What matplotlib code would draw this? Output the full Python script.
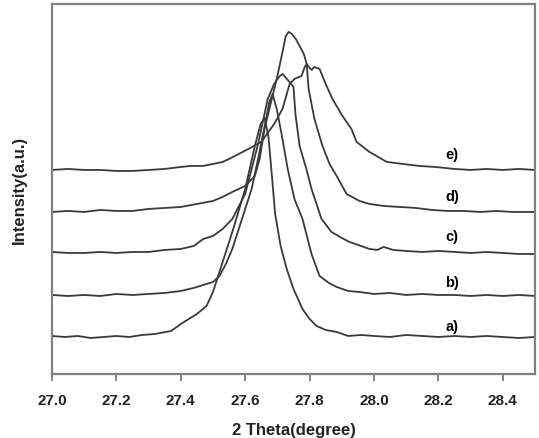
import matplotlib.pyplot as plt

plt.rcParams['font.family'] = ['Liberation Sans', 'DejaVu Sans']
plt.rcParams['font.weight'] = 'bold'

# curve a)
a_x = [27.00, 27.04, 27.08, 27.12, 27.16, 27.20, 27.24, 27.28, 27.32, 27.37, 27.40, 27.45,
       27.48, 27.50, 27.52, 27.54, 27.56, 27.60, 27.63, 27.648, 27.66, 27.672, 27.683, 27.693,
       27.71, 27.729, 27.75, 27.778, 27.80, 27.822, 27.85, 27.884, 27.92, 27.96, 28.00, 28.05,
       28.10, 28.15, 28.20, 28.25, 28.30, 28.35, 28.40, 28.45, 28.50]
a_y = [38, 37, 38, 36, 37, 38, 37, 39, 40, 43, 50, 60,
       68, 82, 102, 122, 142, 185, 228, 250, 256, 238, 198, 160,
       128, 105, 85, 65, 55, 48, 44, 42, 38, 39, 38, 37,
       39, 38, 37, 38, 37, 38, 37, 36, 37]

# curve b)
b_x = [27.00, 27.05, 27.10, 27.15, 27.20, 27.25, 27.30, 27.35, 27.40, 27.44, 27.47, 27.50,
       27.52, 27.54, 27.56, 27.59, 27.62, 27.64, 27.66, 27.675, 27.685, 27.698, 27.713, 27.732,
       27.753, 27.778, 27.806, 27.831, 27.86, 27.884, 27.92, 27.955, 28.00, 28.05, 28.10, 28.15,
       28.20, 28.25, 28.30, 28.35, 28.40, 28.45, 28.50]
b_y = [79, 78, 79, 78, 80, 79, 80, 81, 83, 86, 89, 92,
       98, 110, 125, 155, 185, 215, 247, 272, 280, 265, 240, 205,
       175, 155, 120, 98, 91, 87, 83, 82, 80, 81, 79, 80,
       79, 79, 78, 79, 78, 79, 78]

# curve c)
c_x = [27.00, 27.05, 27.10, 27.15, 27.20, 27.25, 27.30, 27.35, 27.40, 27.44, 27.47, 27.50,
       27.53, 27.56, 27.60, 27.64, 27.67, 27.69, 27.705, 27.716, 27.735, 27.75, 27.756, 27.769,
       27.79, 27.806, 27.837, 27.868, 27.90, 27.924, 27.96, 27.986, 28.01, 28.03, 28.06, 28.10,
       28.15, 28.20, 28.25, 28.30, 28.35, 28.40, 28.45, 28.50]
c_y = [122, 121, 121, 122, 121, 122, 122, 124, 125, 128, 135, 138,
       145, 155, 180, 230, 275, 290, 297, 300, 293, 287, 260, 228,
       205, 185, 155, 142, 136, 132, 128, 125, 124, 127, 124, 123,
       122, 123, 122, 121, 122, 121, 120, 120]

# curve d)
d_x = [27.00, 27.05, 27.10, 27.15, 27.20, 27.25, 27.30, 27.35, 27.40, 27.45, 27.50, 27.53,
       27.56, 27.60, 27.63, 27.645, 27.66, 27.685, 27.70, 27.716, 27.726, 27.735, 27.745, 27.757,
       27.769, 27.782, 27.791, 27.797, 27.815, 27.84, 27.862, 27.884, 27.915, 27.955, 27.986, 28.03,
       28.08, 28.13, 28.18, 28.23, 28.28, 28.33, 28.38, 28.43, 28.50]
d_y = [162, 163, 162, 164, 163, 163, 165, 166, 167, 170, 173, 177,
       182, 188, 198, 215, 245, 278, 298, 322, 338, 342, 340, 335,
       328, 320, 310, 285, 255, 228, 210, 198, 180, 173, 170, 168,
       167, 166, 164, 163, 163, 162, 163, 162, 162]

# curve e)
e_x = [27.00, 27.05, 27.10, 27.15, 27.20, 27.25, 27.30, 27.35, 27.40, 27.43, 27.47, 27.50,
       27.53, 27.55, 27.58, 27.61, 27.65, 27.69, 27.716, 27.738, 27.753, 27.775, 27.785, 27.791,
       27.80, 27.806, 27.815, 27.822, 27.831, 27.85, 27.871, 27.902, 27.93, 27.946, 27.986, 28.04,
       28.09, 28.14, 28.19, 28.25, 28.30, 28.35, 28.40, 28.45, 28.50]
e_y = [204, 205, 204, 204, 203, 203, 204, 205, 207, 208, 208, 210,
       212, 215, 220, 225, 232, 250, 265, 290, 295, 298, 307, 310,
       306, 304, 307, 306, 305, 290, 275, 258, 245, 232, 222, 212,
       210, 208, 207, 205, 204, 205, 204, 205, 204]

labels = ['a)', 'b)', 'c)', 'd)', 'e)']
label_y = [48, 92, 138, 178, 220]

fig = plt.figure(figsize=(5.39, 4.39), dpi=100)
ax = fig.add_axes([0.0965, 0.1458, 0.896, 0.843])

for xs, ys in [(a_x, a_y), (b_x, b_y), (c_x, c_y), (d_x, d_y), (e_x, e_y)]:
    ax.plot(xs, ys, color='#3a3a3a', lw=1.3)

for lab, ly in zip(labels, label_y):
    ax.text(28.243, ly, lab, fontsize=10.5, fontweight='bold', ha='center', va='center')

ax.set_xlim(27.0, 28.5)
ax.set_ylim(0, 370)
ax.set_xticks([27.0, 27.2, 27.4, 27.6, 27.8, 28.0, 28.2, 28.4])
ax.set_xticklabels(['27.0', '27.2', '27.4', '27.6', '27.8', '28.0', '28.2', '28.4'])
ax.set_yticks([])
ax.tick_params(axis='x', direction='out', length=5, width=1.3, color='#777777',
               labelsize=11, pad=9, labelcolor='#222222')
for s in ax.spines.values():
    s.set_color('#808080')
    s.set_linewidth(1.6)

ax.set_xlabel('2 Theta(degree)', fontsize=12, fontweight='bold', labelpad=10.5, color='#222222')
ax.set_ylabel('Intensity(a.u.)', fontsize=12, fontweight='bold', labelpad=18, color='#222222')

plt.savefig('out.png', dpi=100)
